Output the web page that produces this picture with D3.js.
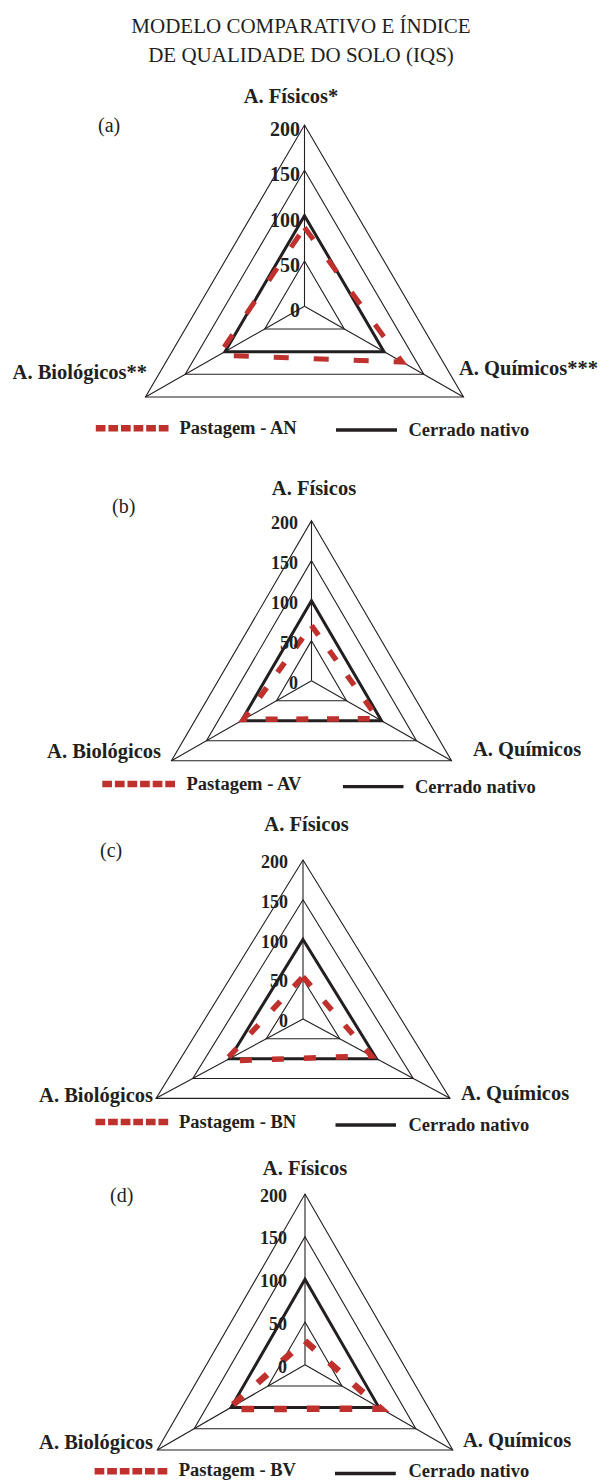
<!DOCTYPE html>
<html>
<head>
<meta charset="utf-8">
<script src="https://cdn.jsdelivr.net/npm/d3@7"></script>
<style>
  body { margin: 0; background: #fff; }
  svg { display: block; }
  text { font-family: "Liberation Serif", "Times New Roman", serif; fill: #231f20; }
</style>
</head>
<body>
<div id="chart"></div>
<script>
// values (IQS, Cerrado nativo = 100)
const titleLines = ["MODELO COMPARATIVO E ÍNDICE", "DE QUALIDADE DO SOLO (IQS)"];
const panels = ["(a)", "(b)", "(c)", "(d)"];
const axesStarred = ["A. Físicos*", "A. Químicos***", "A. Biológicos**"];
const axesPlain = ["A. Físicos", "A. Químicos", "A. Biológicos"];
const ticks = [0, 50, 100, 150, 200];
const rings = [50, 100, 150, 200];
const pastagemNames = ["Pastagem - AN", "Pastagem - AV", "Pastagem - BN", "Pastagem - BV"];
const pastagemAN = [87, 123, 108];
const pastagemAV = [69, 95, 97];
const pastagemBN = [53, 93, 106];
const pastagemBV = [28, 103, 104];
const cerradoNativo = [100, 100, 100];

const red = "#c0312d", ink = "#231f20";

// each panel was scaled separately in the original figure
const layout = [
  { cx: 304.5, cy: 306.3, rx: 183.6, ry: 181.3, tickX: 300, tickDy: 4, tickSize: 20,
    panelX: 98, panelY: 132, topX: 291, topY: 103, leftX: 147, leftY: 379, rightX: 459, rightY: 375,
    legRed: [95.8, 169, 428.3], legText: [179.5, 434], legBlack: [336, 397, 430], legCerrado: [408.5, 436],
    dash: "15,25", dashW: 5 },
  { cx: 311.5, cy: 680.7, rx: 161.7, ry: 160, tickX: 298, tickDy: 2, tickSize: 18,
    panelX: 112, panelY: 513, topX: 314, topY: 495, leftX: 161, leftY: 758, rightX: 473, rightY: 756,
    legRed: [102.3, 176.8, 784], legText: [186.5, 790], legBlack: [343, 403.5, 786.7], legCerrado: [415, 792.7],
    dash: "12,18.7", dashW: 5.5 },
  { cx: 303, cy: 1018.9, rx: 169.7, ry: 158.9, tickX: 288, tickDy: 2, tickSize: 18,
    panelX: 100, panelY: 857, topX: 306.5, topY: 831, leftX: 153, leftY: 1102, rightX: 461, rightY: 1100,
    legRed: [95.5, 169, 1122], legText: [179, 1128], legBlack: [335.5, 396, 1125], legCerrado: [408.5, 1131],
    dash: "12,20", dashW: 5.5 },
  { cx: 305, cy: 1364.7, rx: 170.6, ry: 170.7, tickX: 287, tickDy: 1.5, tickSize: 18,
    panelX: 110, panelY: 1202, topX: 305, topY: 1175, leftX: 153, leftY: 1449, rightX: 463, rightY: 1447,
    legRed: [94.6, 168.7, 1471.2], legText: [178.8, 1476.2], legBlack: [335, 395.8, 1473.5], legCerrado: [408.5, 1477],
    dash: "12.7,20", dashW: 6.5 }
];

const pastagem = [pastagemAN, pastagemAV, pastagemBN, pastagemBV];
const angle = d3.scaleLinear().domain([0, 3]).range([0, 2 * Math.PI]);

const svg = d3.select("#chart").append("svg")
    .attr("width", 602)
    .attr("height", 1482);

svg.append("rect").attr("width", 602).attr("height", 1482).attr("fill", "#fff");

svg.selectAll("text.title")
  .data(titleLines)
  .join("text")
    .attr("class", "title")
    .attr("x", 301)
    .attr("y", (d, i) => 33 + i * 29)
    .attr("text-anchor", "middle")
    .style("font-size", "21px")
    .text(d => d);

layout.forEach((L, p) => {
  const rX = d3.scaleLinear().domain([0, 200]).range([0, L.rx]);
  const rY = d3.scaleLinear().domain([0, 200]).range([0, L.ry]);
  const px = (v, i) => L.cx + rX(v) * Math.sin(angle(i));
  const py = (v, i) => L.cy - rY(v) * Math.cos(angle(i));

  const radar = d3.line()
      .x((v, i) => px(v, i))
      .y((v, i) => py(v, i))
      .curve(d3.curveLinearClosed);

  const g = svg.append("g").attr("class", "panel");

  // grid triangles
  g.selectAll("path.ring")
    .data(rings)
    .join("path")
      .attr("class", "ring")
      .attr("d", r => radar([r, r, r]))
      .attr("fill", "none")
      .attr("stroke", ink)
      .attr("stroke-width", 1.1);

  // spokes
  g.selectAll("line.spoke")
    .data([0, 1, 2])
    .join("line")
      .attr("class", "spoke")
      .attr("x1", L.cx).attr("y1", L.cy)
      .attr("x2", i => px(200, i))
      .attr("y2", i => py(200, i))
      .attr("stroke", ink)
      .attr("stroke-width", 1.1);

  // Cerrado nativo
  g.append("path")
      .attr("d", radar(cerradoNativo))
      .attr("fill", "none")
      .attr("stroke", ink)
      .attr("stroke-width", 3)
      .attr("stroke-linejoin", "miter");

  // Pastagem
  g.append("path")
      .attr("d", radar(pastagem[p]))
      .attr("fill", "none")
      .attr("stroke", red)
      .attr("stroke-width", L.dashW)
      .attr("stroke-dasharray", L.dash);

  // tick labels
  g.selectAll("text.tick")
    .data(ticks)
    .join("text")
      .attr("class", "tick")
      .attr("x", L.tickX)
      .attr("y", t => L.cy - rY(t) + L.tickDy)
      .attr("dy", "0.35em")
      .attr("text-anchor", "end")
      .style("font-size", L.tickSize + "px")
      .style("font-weight", "bold")
      .text(t => t);

  const names = p === 0 ? axesStarred : axesPlain;
  const axisText = (txt, x, y, anchor) => g.append("text")
      .attr("x", x).attr("y", y)
      .attr("text-anchor", anchor)
      .style("font-size", "20.5px")
      .style("font-weight", "bold")
      .text(txt);
  axisText(names[0], L.topX, L.topY, "middle");
  axisText(names[1], L.rightX, L.rightY, "start");
  axisText(names[2], L.leftX, L.leftY, "end");

  g.append("text")
      .attr("x", L.panelX).attr("y", L.panelY)
      .style("font-size", "20px")
      .text(panels[p]);

  // legend
  g.append("line")
      .attr("x1", L.legRed[0]).attr("x2", L.legRed[1])
      .attr("y1", L.legRed[2]).attr("y2", L.legRed[2])
      .attr("stroke", red)
      .attr("stroke-width", 6.5)
      .attr("stroke-dasharray", "9.7,2.9");
  g.append("text")
      .attr("x", L.legText[0]).attr("y", L.legText[1])
      .style("font-size", "18.5px")
      .style("font-weight", "bold")
      .text(pastagemNames[p]);
  g.append("line")
      .attr("x1", L.legBlack[0]).attr("x2", L.legBlack[1])
      .attr("y1", L.legBlack[2]).attr("y2", L.legBlack[2])
      .attr("stroke", ink)
      .attr("stroke-width", 3.3);
  g.append("text")
      .attr("x", L.legCerrado[0]).attr("y", L.legCerrado[1])
      .style("font-size", "18.5px")
      .style("font-weight", "bold")
      .text("Cerrado nativo");
});
</script>
</body>
</html>
